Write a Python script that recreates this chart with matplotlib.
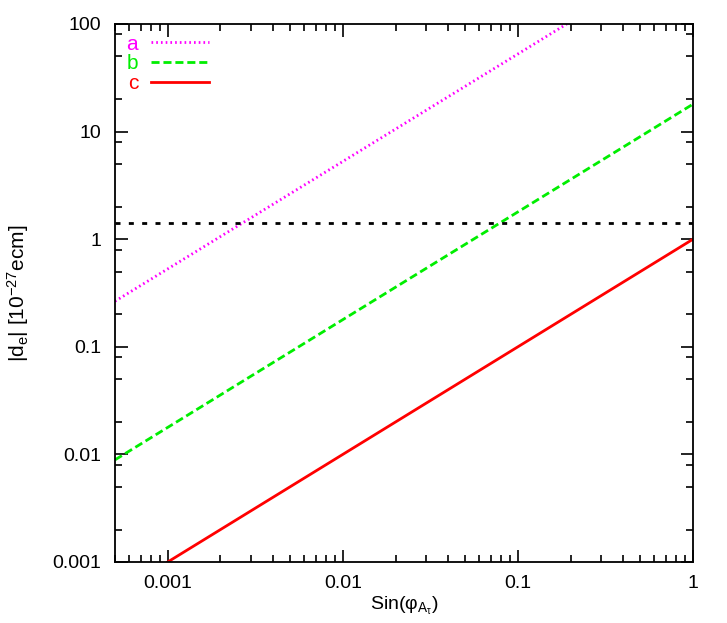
import matplotlib
matplotlib.use("Agg")
import matplotlib.pyplot as plt
from matplotlib.ticker import LogLocator, FixedLocator, FixedFormatter, NullFormatter

plt.rcParams['font.family'] = ['Liberation Sans', 'DejaVu Sans']
plt.rcParams['mathtext.default'] = 'regular'

# Data (endpoints; lines are straight in log-log)
x_a = [0.0005, 0.19]
y_a = [0.265, 100]
x_b = [0.0005, 1.0]
y_b = [0.0089, 18.0]
x_c = [0.001, 1.0]
y_c = [0.001, 1.0]
limit_y = 1.4

xticks = [0.001, 0.01, 0.1, 1]
xticklabels = ['0.001', '0.01', '0.1', '1']
yticks = [0.001, 0.01, 0.1, 1, 10, 100]
yticklabels = ['0.001', '0.01', '0.1', '1', '10', '100']

fig = plt.figure(figsize=(7.27, 6.23), dpi=100)
ax = fig.add_axes([115/727, 1-562/623, (693-115)/727, (562-24)/623])

ax.plot(x_a, y_a, color='#ff00ff', lw=2, linestyle=(0, (0.6, 1.1)), label='a')
ax.plot(x_b, y_b, color='#00ee00', lw=2, linestyle=(0, (2.9, 1.4)), label='b')
ax.plot(x_c, y_c, color='#ff0000', lw=2, linestyle='-', label='c')
ax.axhline(limit_y, color='black', lw=2, linestyle=(0, (1.8, 3.0)))

ax.set_xscale('log')
ax.set_yscale('log')
ax.set_xlim(0.0005, 1)
ax.set_ylim(0.001, 100)

ax.xaxis.set_major_locator(FixedLocator(xticks))
ax.xaxis.set_major_formatter(FixedFormatter(xticklabels))
ax.xaxis.set_minor_locator(LogLocator(base=10, subs=(2, 3, 4, 5, 6, 7, 8, 9)))
ax.xaxis.set_minor_formatter(NullFormatter())
ax.yaxis.set_major_locator(FixedLocator(yticks))
ax.yaxis.set_major_formatter(FixedFormatter(yticklabels))
ax.yaxis.set_minor_locator(LogLocator(base=10, subs=(2, 5, 8)))
ax.yaxis.set_minor_formatter(NullFormatter())

ax.tick_params(which='both', direction='in', top=True, right=True, labelsize=14, width=1.2)
ax.tick_params(which='major', length=9)
ax.tick_params(axis='x', which='major', pad=9)
ax.tick_params(axis='y', which='major', pad=10)
ax.tick_params(which='minor', length=5)
for s in ax.spines.values():
    s.set_linewidth(1.3)

ax.set_xlabel('Sin(φ$_{A_τ}$)', fontsize=14)
ax.xaxis.set_label_coords(0.5, -0.062)
ax.set_ylabel('|d$_e$| [10$^{-27}$ecm]', fontsize=15)
ax.yaxis.set_label_coords(-0.146, 0.5)

leg = ax.legend(loc='upper left', markerfirst=False, frameon=False, fontsize=15,
                labelcolor='linecolor', handlelength=2.8, handletextpad=0.6,
                labelspacing=0.03, borderaxespad=0.0, borderpad=0.0,
                bbox_to_anchor=(0.02, 0.98))

fig.savefig('out.png', dpi=100)
